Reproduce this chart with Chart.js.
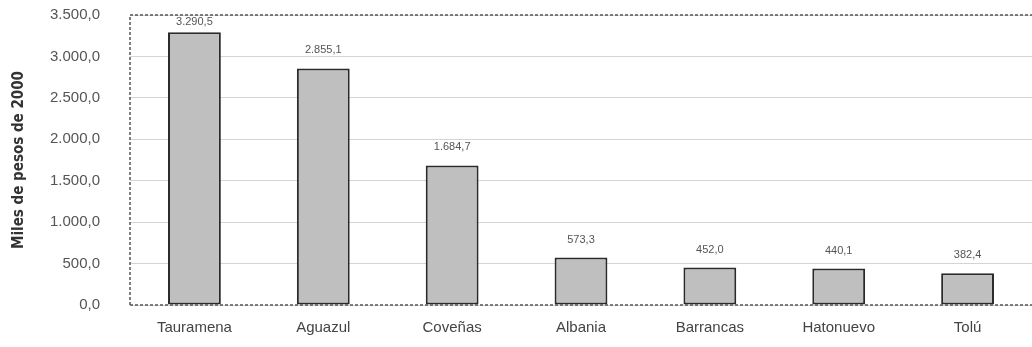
<!DOCTYPE html>
<html>
<head>
<meta charset="UTF-8" />
<title>Miles de pesos de 2000</title>
<style>
html, body { margin: 0; padding: 0; background: #fff; }
#wrap { width: 1032px; height: 347px; }
</style>
<script src="https://cdn.jsdelivr.net/npm/chart.js@4.4.0/dist/chart.umd.min.js"></script>
</head>
<body>
<div id="wrap"><canvas id="chart" width="1032" height="347"></canvas></div>
<script>
// datos
var municipios = ["Tauramena", "Aguazul", "Coveñas", "Albania", "Barrancas", "Hatonuevo", "Tolú"];
var valores = [3290.5, 2855.1, 1684.7, 573.3, 452.0, 440.1, 382.4];
var yMax = 3500;
var yPaso = 500;

var FONT = '"Liberation Sans", Arial, sans-serif';
var NARROW = '"Liberation Sans Narrow", "DejaVu Sans Condensed", "Arial Narrow", sans-serif';

function fmt(v) {
	var s = v.toFixed(1).split(".");
	var ent = s[0].replace(/\B(?=(\d{3})+(?!\d))/g, ".");
	return ent + "," + s[1];
}

// marco punteado del area de trazado
var marco = {
	id: 'marco',
	afterDraw: function(chart) {
		var a = chart.chartArea, c = chart.ctx;
		c.save();
		c.strokeStyle = '#555';
		c.lineWidth = 1.5;
		c.setLineDash([3, 2]);
		c.beginPath();
		c.moveTo(a.left, a.bottom);
		c.lineTo(a.left, a.top);
		c.lineTo(a.right, a.top);
		c.moveTo(a.left, a.bottom);
		c.lineTo(a.right, a.bottom);
		c.stroke();
		c.restore();
	}
};

// etiquetas de valor sobre cada barra
var etiquetas = {
	id: 'etiquetas',
	afterDatasetsDraw: function(chart) {
		var c = chart.ctx;
		var meta = chart.getDatasetMeta(0);
		var top = chart.chartArea.top;
		c.save();
		c.font = '11px ' + FONT;
		c.fillStyle = '#555';
		c.textAlign = 'center';
		c.textBaseline = 'middle';
		meta.data.forEach(function(bar, i) {
			var y = Math.max(bar.y - 18, top + 7);
			c.fillText(fmt(valores[i]), bar.x, y);
		});
		c.restore();
	}
};

new Chart(document.getElementById('chart'), {
	type: 'bar',
	data: {
		labels: municipios,
		datasets: [{
			data: valores,
			backgroundColor: '#bfbfbf',
			borderColor: '#2a2a2a',
			borderWidth: 2,
			borderSkipped: false,
			categoryPercentage: 1,
			barPercentage: 0.41
		}]
	},
	options: {
		responsive: false,
		animation: false,
		devicePixelRatio: 1,
		layout: { padding: { top: 15, right: 0, left: 0, bottom: 0 } },
		plugins: { legend: { display: false }, tooltip: { enabled: false } },
		scales: {
			x: {
				grid: { display: false, drawTicks: false },
				border: { display: false },
				ticks: { color: '#444', font: { family: FONT, size: 15 }, padding: 14 },
				afterFit: function(s) { s.height = 42; s.paddingLeft = 0; s.paddingRight = 0; }
			},
			y: {
				min: 0,
				max: yMax,
				grid: { color: '#d4d4d4', drawTicks: false },
				border: { display: false },
				ticks: {
					stepSize: yPaso,
					color: '#555',
					font: { family: FONT, size: 15 },
					padding: 30,
					callback: function(v) { return fmt(v); }
				},
				title: {
					display: true,
					text: 'Miles de pesos de 2000',
					color: '#333',
					font: { family: NARROW, size: 15, weight: 'bold' },
					padding: { top: 10, bottom: 0 }
				},
				afterFit: function(s) { s.width = 130; s.paddingTop = 0; s.paddingBottom = 0; }
			}
		}
	},
	plugins: [marco, etiquetas]
});
</script>
</body>
</html>
